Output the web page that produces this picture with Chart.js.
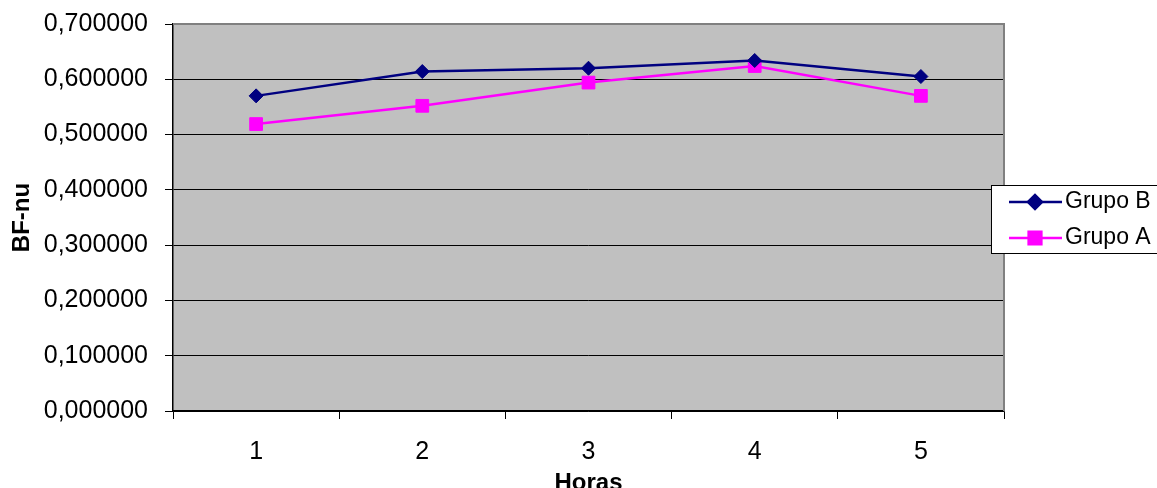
<!DOCTYPE html>
<html>
<head>
<meta charset="utf-8">
<script src="https://cdn.jsdelivr.net/npm/chart.js@4/dist/chart.umd.min.js"></script>
<style>
  html, body { margin: 0; padding: 0; background: #fff; }
  #wrap { width: 1157px; height: 488px; position: relative; }
</style>
</head>
<body>
<div id="wrap"><canvas id="c" width="1157" height="488"></canvas></div>
<script>
// Hourly BF-nu means for the two groups
const horas = ['1', '2', '3', '4', '5'];
const grupoB = [0.570, 0.614, 0.620, 0.634, 0.605];
const grupoA = [0.519, 0.552, 0.594, 0.624, 0.570];
const yTicks = [0, 0.1, 0.2, 0.3, 0.4, 0.5, 0.6, 0.7];

const FONT = "'Liberation Sans', Arial, sans-serif";

// Grey plot background and border
const plotFrame = {
  id: 'plotFrame',
  beforeDraw(chart) {
    const { ctx, chartArea: a } = chart;
    ctx.save();
    ctx.fillStyle = '#C0C0C0';
    ctx.fillRect(a.left, a.top, a.right - a.left, a.bottom - a.top);
    ctx.restore();
  },
  afterDatasetsDraw(chart) {
    const { ctx, chartArea: a } = chart;
    ctx.save();
    ctx.strokeStyle = '#808080';
    ctx.lineWidth = 2;
    ctx.beginPath();
    ctx.moveTo(a.left, a.top);
    ctx.lineTo(a.right, a.top);
    ctx.lineTo(a.right, a.bottom);
    ctx.stroke();
    ctx.restore();
  }
};

// Boxed legend at the right side
const boxLegend = {
  id: 'boxLegend',
  afterDraw(chart) {
    const { ctx } = chart;
    const x0 = 991, y0 = 185, w = 175, h = 68;
    ctx.save();
    ctx.fillStyle = '#fff';
    ctx.fillRect(x0, y0, w, h);
    ctx.strokeStyle = '#000';
    ctx.lineWidth = 1;
    ctx.strokeRect(x0 + 0.5, y0 + 0.5, w, h);
    const items = chart.data.datasets.map((ds, i) => ({ ds, y: 202 + i * 36 }));
    items.forEach(({ ds, y }) => {
      ctx.strokeStyle = ds.borderColor;
      ctx.lineWidth = ds.borderWidth;
      ctx.beginPath();
      ctx.moveTo(1009, y);
      ctx.lineTo(1062, y);
      ctx.stroke();
      Chart.helpers.drawPoint(ctx, {
        pointStyle: ds.pointStyle,
        rotation: 0,
        radius: ds.pointRadius,
        borderWidth: 1
      }, 1035, y);
      ctx.fillStyle = ds.backgroundColor;
      ctx.fill();
      ctx.fillStyle = '#000';
      ctx.font = '23px ' + FONT;
      ctx.textBaseline = 'middle';
      ctx.textAlign = 'left';
      ctx.fillText(ds.label, 1065, y);
    });
    ctx.restore();
  }
};

// Fixed scale box sizes so the plot area keeps its place
function fixBox(size, key) {
  return scale => {
    scale[key] = size;
    scale.paddingTop = 0;
    scale.paddingBottom = 0;
    scale.paddingLeft = 0;
    scale.paddingRight = 0;
  };
}

new Chart(document.getElementById('c'), {
  type: 'line',
  data: {
    labels: horas,
    datasets: [
      {
        label: 'Grupo B',
        data: grupoB,
        borderColor: '#000080',
        backgroundColor: '#000080',
        borderWidth: 2.5,
        pointStyle: 'rectRot',
        pointRadius: 7,
        pointBorderWidth: 1,
        pointBackgroundColor: '#000080',
        pointBorderColor: '#000080',
        tension: 0
      },
      {
        label: 'Grupo A',
        data: grupoA,
        borderColor: '#FF00FF',
        backgroundColor: '#FF00FF',
        borderWidth: 2.5,
        pointStyle: 'rect',
        pointRadius: 9,
        pointBorderWidth: 1,
        pointBackgroundColor: '#FF00FF',
        pointBorderColor: '#FF00FF',
        tension: 0
      }
    ]
  },
  options: {
    responsive: false,
    animation: false,
    layout: { padding: { top: 24, right: 153, left: 0, bottom: 0 } },
    plugins: {
      legend: { display: false },
      tooltip: { enabled: false }
    },
    scales: {
      x: {
        type: 'category',
        offset: true,
        grid: {
          offset: true,
          drawOnChartArea: false,
          drawTicks: true,
          tickLength: 8,
          color: '#000',
          lineWidth: 1
        },
        border: { display: true, color: '#000', width: 1.5 },
        ticks: {
          color: '#000',
          font: { family: FONT, size: 25 },
          padding: 18,
          maxRotation: 0
        },
        title: {
          display: true,
          text: 'Horas',
          color: '#000',
          font: { family: FONT, size: 24, weight: 'bold', lineHeight: 0.35 },
          padding: { top: 0, bottom: 0 }
        },
        afterFit: fixBox(77, 'height')
      },
      y: {
        min: 0,
        max: 0.7,
        afterBuildTicks(scale) {
          scale.ticks = yTicks.map(v => ({ value: v }));
        },
        grid: {
          drawTicks: true,
          tickLength: 8,
          color: ctx => (ctx.tick && ctx.tick.value === 0.7) ? 'rgba(0,0,0,0)' : '#000',
          tickColor: '#000',
          lineWidth: 1
        },
        border: { display: true, color: '#000', width: 1.5 },
        ticks: {
          color: '#000',
          font: { family: FONT, size: 25 },
          padding: 17,
          callback: v => Number(v).toFixed(6).replace('.', ',')
        },
        title: {
          display: true,
          text: 'BF-nu',
          color: '#000',
          font: { family: FONT, size: 24, weight: 'bold', lineHeight: 1.2 },
          padding: { top: 8, bottom: 0 }
        },
        afterFit: fixBox(173, 'width')
      }
    }
  },
  plugins: [plotFrame, boxLegend]
});
</script>
</body>
</html>
